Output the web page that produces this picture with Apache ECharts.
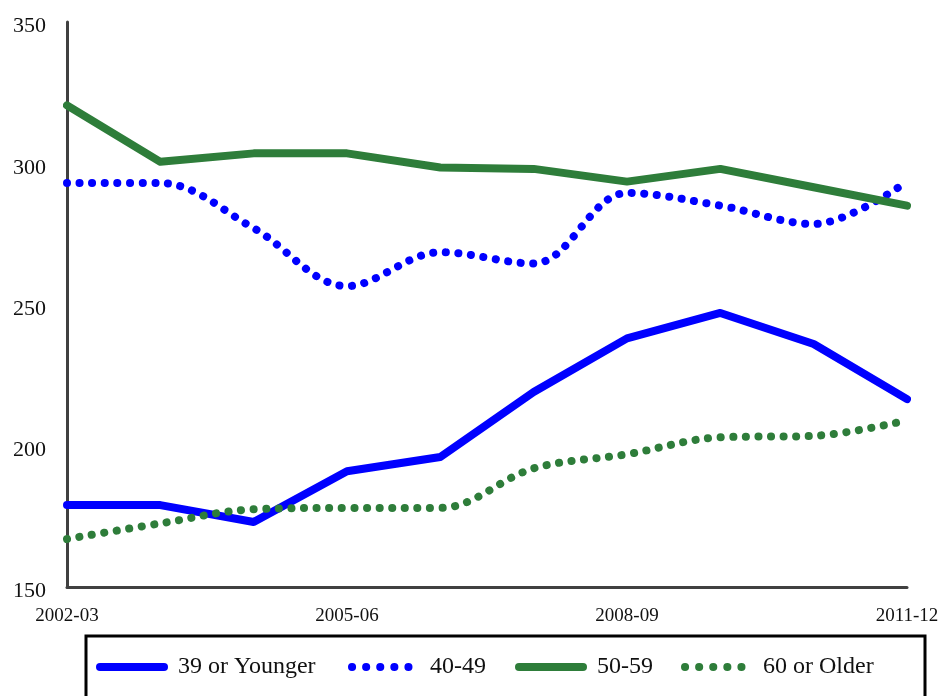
<!DOCTYPE html>
<html>
<head>
<meta charset="utf-8">
<script src="https://cdn.jsdelivr.net/npm/echarts@6/dist/echarts.min.js"></script>
<style>
  html, body { margin: 0; padding: 0; background: #fff; }
  #chart { width: 945px; height: 696px; }
</style>
</head>
<body>
<div id="chart"></div>
<script>
// School years on the horizontal axis
const years = ['2002-03', '2003-04', '2004-05', '2005-06', '2006-07',
               '2007-08', '2008-09', '2009-10', '2010-11', '2011-12'];

// Values by age group
const age39OrYounger = [179, 179, 173, 191, 196, 219, 238, 247, 236, 216.5];
const age40to49      = [293, 293, 277, 256.5, 268.5, 264.5, 289.5, 285, 278.5, 293.5];
const age50to59      = [320.5, 300.5, 303.5, 303.5, 298.5, 298, 293.5, 298, 291.5, 285];
const age60OrOlder   = [167, 172.5, 177.5, 178, 178, 192, 197, 203, 203.5, 209];

const seriesNames = ['39 or Younger', '40-49', '50-59', '60 or Older'];
const seriesDotted = [false, true, false, true];

const BLUE = '#0000FF';
const GREEN = '#2E7D3A';
const FONT = '"Liberation Serif", "DejaVu Serif", serif';

const dotted = [0.1, 12.5];

function makeSeries(name, data, color, isDotted) {
  return {
    name: name,
    type: 'line',
    data: data,
    symbol: 'none',
    smooth: isDotted ? 0.35 : false,
    lineStyle: {
      color: color,
      width: 8,
      type: isDotted ? dotted : 'solid',
      cap: 'round',
      join: 'round'
    },
    itemStyle: { color: color },
    emphasis: { disabled: true }
  };
}

// One legend block per entry so each sits at its own place in the framed key
const legendLefts = [96, 348, 515, 681];
const legends = seriesNames.map(function (name, i) {
  return {
    data: [name],
    left: legendLefts[i],
    top: 655,
    padding: 0,
    itemWidth: 64,
    itemHeight: 22,
    itemGap: 16,
    itemStyle: { opacity: 0 },
    lineStyle: {
      width: 8,
      cap: 'round',
      join: 'round',
      type: seriesDotted[i] ? [0.1, 14] : 'solid'
    },
    textStyle: { color: '#111', fontFamily: FONT, fontSize: 24, padding: [0, 0, 0, 9] },
    selectedMode: false
  };
});

const chart = echarts.init(document.getElementById('chart'), null, { renderer: 'canvas' });

chart.setOption({
  animation: false,
  backgroundColor: '#fff',
  grid: { left: 67, right: 38, top: 22, bottom: 109, containLabel: false },
  xAxis: {
    type: 'category',
    data: years,
    boundaryGap: false,
    axisLine: { show: true, lineStyle: { color: '#404040', width: 3 } },
    axisTick: { show: false },
    axisLabel: {
      interval: 2,
      margin: 20,
      color: '#111',
      fontFamily: FONT,
      fontSize: 19
    },
    splitLine: { show: false }
  },
  yAxis: {
    type: 'value',
    min: 150,
    max: 350,
    interval: 50,
    axisLine: { show: true, lineStyle: { color: '#404040', width: 3 } },
    axisTick: { show: false },
    axisLabel: {
      margin: 21,
      formatter: '{v|{value}}',
      rich: {
        v: {
          color: '#111',
          fontFamily: FONT,
          fontSize: 22,
          padding: [9, 0, 0, 0]
        }
      }
    },
    splitLine: { show: false }
  },
  legend: legends,
  graphic: [{
    type: 'rect',
    shape: { x: 86, y: 636, width: 839, height: 80 },
    style: { fill: 'none', stroke: '#000', lineWidth: 3 },
    silent: true
  }],
  series: seriesNames.map(function (name, i) {
    const values = [age39OrYounger, age40to49, age50to59, age60OrOlder][i];
    const color = i < 2 ? BLUE : GREEN;
    return makeSeries(name, values, color, seriesDotted[i]);
  })
});
</script>
</body>
</html>
